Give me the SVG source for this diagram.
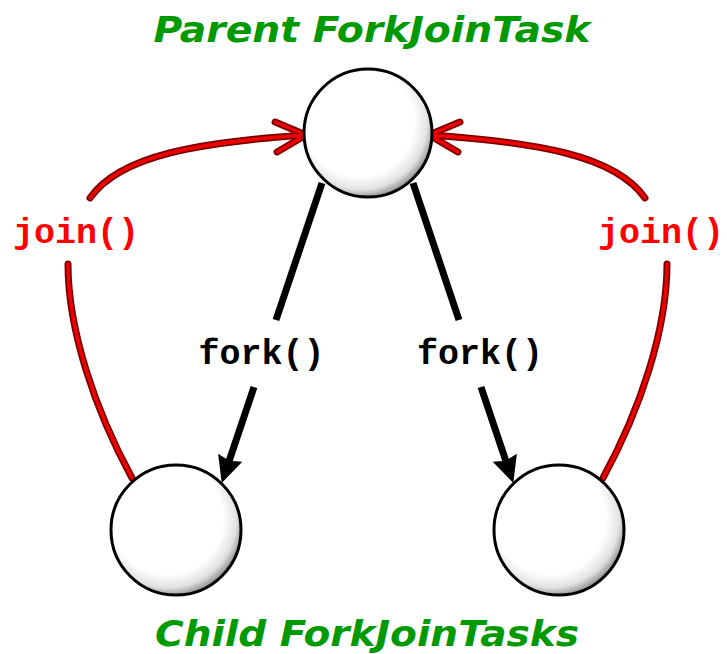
<svg xmlns="http://www.w3.org/2000/svg" width="727" height="654" viewBox="0 0 727 654">
<style>
.title{font-family:"DejaVu Sans",Verdana,sans-serif;font-weight:bold;font-style:italic;font-size:36px;fill:#009900;text-anchor:middle}
.code{font-family:"Liberation Mono","Courier New",monospace;font-weight:bold;font-size:35px;text-anchor:middle}
.fork{fill:#000}
.join{fill:#ff0000}
.node{fill:url(#shade);stroke:#000;stroke-width:3}
.blk{fill:none;stroke:#000;stroke-width:7}
.redDark{fill:none;stroke:#7a0000;stroke-width:7;stroke-linecap:round}
.redLight{fill:none;stroke:#ee0000;stroke-width:3.5;stroke-linecap:round}
</style>
<defs>
<radialGradient id="shade" cx="0.44" cy="0.42" r="0.6" fx="0.4" fy="0.38">
<stop offset="0" stop-color="#ffffff"/>
<stop offset="0.72" stop-color="#ffffff"/>
<stop offset="0.88" stop-color="#e2e2e2"/>
<stop offset="1" stop-color="#8a8a8a"/>
</radialGradient>
<marker id="ahBlack" markerUnits="userSpaceOnUse" markerWidth="34" markerHeight="34" viewBox="-28 -16 32 32" refX="-15" refY="0" orient="auto">
<path d="M0,0 L-25,-12 L-22,0 L-25,12 Z" fill="#000"/>
</marker>
<marker id="ahRedDark" markerUnits="userSpaceOnUse" markerWidth="44" markerHeight="44" viewBox="-36 -22 40 44" refX="0" refY="0" orient="auto">
<path d="M-30,-15 L0,0 L-30,15" fill="none" stroke="#7a0000" stroke-width="7" stroke-linecap="round" stroke-linejoin="round"/>
</marker>
<marker id="ahRedLight" markerUnits="userSpaceOnUse" markerWidth="44" markerHeight="44" viewBox="-36 -22 40 44" refX="0" refY="0" orient="auto">
<path d="M-30,-15 L0,0 L-30,15" fill="none" stroke="#ee0000" stroke-width="3.5" stroke-linecap="round" stroke-linejoin="round"/>
</marker>
</defs>
<rect width="727" height="654" fill="#fff"/>
<g id="connectors">
<path class="blk" d="M322,183 L276,320 M254,387 L226.8,467.8" marker-end="url(#ahBlack)"/>
<path class="blk" d="M413,183 L459,320 M481,387 L508.2,467.8" marker-end="url(#ahBlack)"/>
<path class="redDark" d="M132,478 C95,410 68,330 68,264 M90,198 C120,155 200,142 306,135" marker-end="url(#ahRedDark)"/>
<path class="redLight" d="M132,478 C95,410 68,330 68,264 M90,198 C120,155 200,142 306,135" marker-end="url(#ahRedLight)"/>
<path class="redDark" d="M603,478 C640,410 667,330 667,264 M645,198 C615,155 535,142 429,135" marker-end="url(#ahRedDark)"/>
<path class="redLight" d="M603,478 C640,410 667,330 667,264 M645,198 C615,155 535,142 429,135" marker-end="url(#ahRedLight)"/>
</g>
<g id="parent">
<circle class="node" cx="368" cy="133" r="64"/>
</g>
<g id="child-left">
<circle class="node" cx="176" cy="530" r="65"/>
</g>
<g id="child-right">
<circle class="node" cx="559" cy="530" r="65"/>
</g>
<g id="labels">
<text class="title" x="372" y="42" textLength="437" lengthAdjust="spacingAndGlyphs">Parent ForkJoinTask</text>
<text class="title" x="367" y="646" textLength="424" lengthAdjust="spacingAndGlyphs">Child ForkJoinTasks</text>
<text class="code fork" x="261.5" y="364">fork()</text>
<text class="code fork" x="480" y="364">fork()</text>
<text class="code join" x="76" y="243">join()</text>
<text class="code join" x="661" y="243">join()</text>
</g>
</svg>
